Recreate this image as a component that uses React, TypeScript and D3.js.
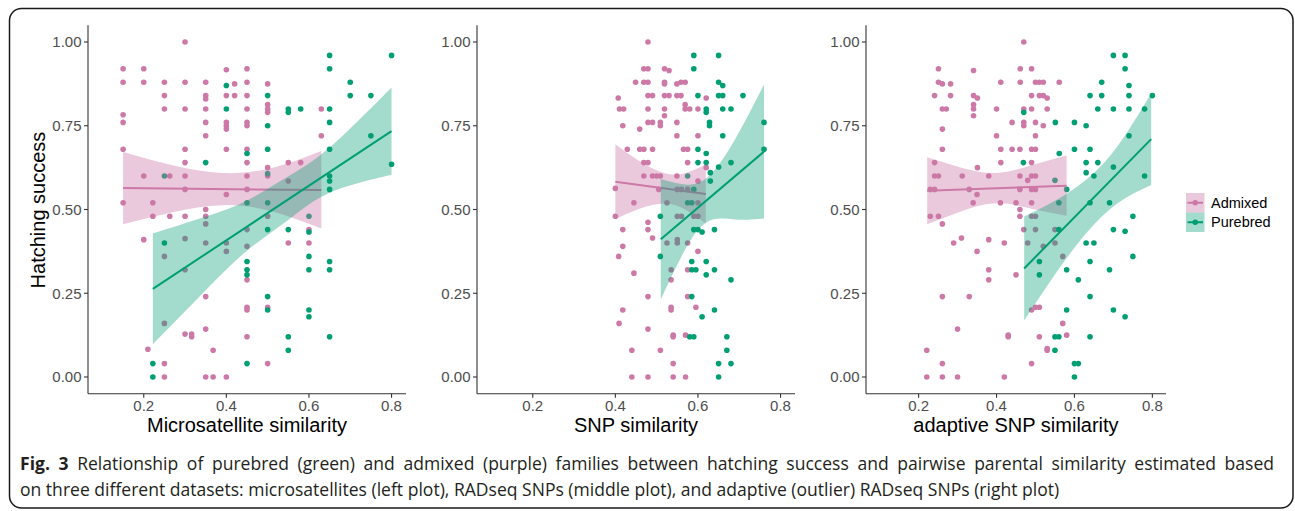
import React, { useLayoutEffect, useRef, useState } from "react";
import * as d3 from "d3";

// shared axis / legend labels
const yTicks = [0, 0.25, 0.5, 0.75, 1];
const xTicks = [0.2, 0.4, 0.6, 0.8];
const groupNames = ["Admixed", "Purebred"];
const groupColors = ["#CC79A7", "#009E73"];
const panelTitles = ["Microsatellite similarity", "SNP similarity", "adaptive SNP similarity"];

// ---- microsatellite panel ----
const msatAdmixed = [
  [0.15, 0.92], [0.15, 0.88], [0.15, 0.783], [0.15, 0.76], [0.15, 0.68], [0.15, 0.52],
  [0.2, 0.92], [0.2, 0.88], [0.2, 0.6], [0.2, 0.41], [0.21, 0.083],
  [0.222, 0.52], [0.222, 0.48],
  [0.25, 0.88], [0.25, 0.84], [0.25, 0.8], [0.25, 0.36], [0.25, 0.16], [0.25, 0.04], [0.25, 0],
  [0.263, 0.6], [0.263, 0.48],
  [0.3, 1.0], [0.3, 0.88], [0.3, 0.8], [0.3, 0.68], [0.3, 0.64], [0.3, 0.6], [0.3, 0.56], [0.3, 0.48], [0.3, 0.413], [0.3, 0.32], [0.3, 0.128],
  [0.316, 0.128], [0.316, 0.12],
  [0.35, 0.88], [0.35, 0.84], [0.35, 0.83], [0.35, 0.8], [0.35, 0.76], [0.35, 0.72], [0.35, 0.5], [0.35, 0.48], [0.35, 0.457], [0.35, 0.4], [0.35, 0.24], [0.35, 0.143], [0.35, 0],
  [0.368, 0.08], [0.368, 0],
  [0.4, 0.917], [0.4, 0.84], [0.4, 0.76], [0.4, 0.75], [0.4, 0.74], [0.4, 0.68], [0.4, 0.545], [0.4, 0.4], [0.4, 0.375], [0.4, 0],
  [0.42, 0.875], [0.42, 0.84],
  [0.45, 0.92], [0.45, 0.88], [0.45, 0.84], [0.45, 0.8], [0.45, 0.76], [0.45, 0.75], [0.45, 0.68], [0.45, 0.64], [0.45, 0.6], [0.45, 0.56], [0.45, 0.44], [0.45, 0.39], [0.45, 0.29], [0.45, 0.208], [0.45, 0.2], [0.45, 0.12],
  [0.5, 0.875], [0.5, 0.813], [0.5, 0.8], [0.5, 0.79], [0.5, 0.625], [0.5, 0.6], [0.5, 0.48], [0.5, 0.208], [0.5, 0.04],
  [0.55, 0.64], [0.55, 0.585], [0.55, 0.4], [0.58, 0.64],
  [0.6, 0.44], [0.6, 0.4],
  [0.63, 0.8], [0.63, 0.72],
];
const msatPurebred = [
  [0.222, 0.04], [0.222, 0],
  [0.25, 0.6], [0.25, 0.4],
  [0.35, 0.64],
  [0.4, 0.87], [0.4, 0.8],
  [0.45, 0.667], [0.45, 0.52], [0.45, 0.345], [0.45, 0.32], [0.45, 0.305], [0.45, 0.04],
  [0.5, 0.84], [0.5, 0.75], [0.5, 0.68], [0.5, 0.607], [0.5, 0.52], [0.5, 0.44], [0.5, 0.24], [0.5, 0.2],
  [0.55, 0.8], [0.55, 0.79], [0.55, 0.44], [0.55, 0.12], [0.55, 0.08],
  [0.58, 0.8],
  [0.6, 0.48], [0.6, 0.433], [0.6, 0.36], [0.6, 0.32], [0.6, 0.2], [0.6, 0.18],
  [0.65, 0.96], [0.65, 0.92], [0.65, 0.8], [0.65, 0.76], [0.65, 0.68], [0.65, 0.6], [0.65, 0.585], [0.65, 0.56], [0.65, 0.345], [0.65, 0.32], [0.65, 0.12],
  [0.7, 0.88], [0.7, 0.84],
  [0.75, 0.84], [0.75, 0.72],
  [0.8, 0.96], [0.8, 0.635],
];
const msatAdmixedFit = [[0.15, 0.564], [0.63, 0.558]];
const msatPurebredFit = [[0.222, 0.263], [0.8, 0.734]];
// band: [x, lower, upper]
const msatAdmixedBand = [[0.15, 0.456, 0.672], [0.27, 0.492, 0.632], [0.39, 0.513, 0.609], [0.51, 0.495, 0.624], [0.63, 0.443, 0.675]];
const msatPurebredBand = [[0.222, 0.098, 0.428], [0.35, 0.259, 0.479], [0.45, 0.377, 0.527], [0.55, 0.469, 0.599], [0.65, 0.55, 0.685], [0.8, 0.604, 0.864]];

// ---- SNP panel ----
const snpAdmixed = [
  [0.4, 0.563], [0.4, 0.48],
  [0.407, 0.833], [0.41, 0.8], [0.408, 0.36], [0.409, 0.16],
  [0.418, 0.75], [0.418, 0.44], [0.418, 0.39], [0.418, 0.2], [0.42, 0.8],
  [0.429, 0.68],
  [0.44, 0.08], [0.44, 0], [0.445, 0.52], [0.445, 0.31],
  [0.449, 0.88],
  [0.459, 0.74], [0.459, 0.68],
  [0.469, 0.92], [0.469, 0.88], [0.469, 0.68], [0.469, 0.64], [0.469, 0.6],
  [0.479, 1.0], [0.479, 0.92], [0.479, 0.88], [0.479, 0.84], [0.479, 0.8], [0.479, 0.76], [0.479, 0.64], [0.479, 0.462], [0.479, 0.44], [0.479, 0.24], [0.479, 0.143], [0.479, 0],
  [0.49, 0.84], [0.49, 0.76], [0.49, 0.68], [0.49, 0.6], [0.49, 0.415],
  [0.5, 0.6], [0.505, 0.56],
  [0.509, 0.76], [0.509, 0.75], [0.509, 0.6], [0.509, 0.08],
  [0.519, 0.92], [0.519, 0.88], [0.519, 0.875], [0.519, 0.84], [0.519, 0.8], [0.519, 0.78],
  [0.525, 0.52], [0.525, 0.4],
  [0.53, 0.915], [0.53, 0.84],
  [0.535, 0.32], [0.535, 0.29], [0.535, 0.208], [0.535, 0.2], [0.54, 0.125], [0.54, 0.12], [0.54, 0.04], [0.54, 0],
  [0.549, 0.875], [0.549, 0.84], [0.549, 0.76], [0.549, 0.72], [0.549, 0.6], [0.55, 0.56], [0.55, 0.48], [0.55, 0.41], [0.55, 0.4],
  [0.559, 0.88], [0.559, 0.84], [0.56, 0.56], [0.56, 0.48],
  [0.565, 0.68],
  [0.569, 0.88], [0.569, 0.813], [0.569, 0.8],
  [0.575, 0.68], [0.575, 0.64], [0.575, 0.56], [0.575, 0.4], [0.575, 0.32], [0.575, 0.24], [0.57, 0.125], [0.57, 0],
  [0.58, 0.8],
  [0.59, 0.48], [0.595, 0.208],
  [0.6, 0.8], [0.6, 0.72], [0.6, 0.585], [0.6, 0.52], [0.6, 0.48], [0.6, 0.375],
  [0.62, 0.833], [0.62, 0.625],
];
const snpPurebred = [
  [0.509, 0.48], [0.509, 0.36],
  [0.575, 0.6], [0.575, 0.52],
  [0.58, 0.12], [0.585, 0.345], [0.585, 0.32], [0.585, 0.24], [0.585, 0.52],
  [0.59, 0.96], [0.59, 0.92], [0.59, 0.56], [0.59, 0.44], [0.59, 0.12],
  [0.595, 0.32],
  [0.6, 0.84], [0.6, 0.68], [0.6, 0.64], [0.6, 0.44],
  [0.61, 0.433], [0.61, 0.18],
  [0.62, 0.8], [0.62, 0.79], [0.62, 0.667], [0.62, 0.64], [0.62, 0.345], [0.62, 0.305],
  [0.628, 0.76], [0.628, 0.75], [0.63, 0.61], [0.63, 0.585],
  [0.64, 0.44], [0.64, 0.32], [0.64, 0.2],
  [0.65, 0.96], [0.65, 0.88], [0.65, 0.84], [0.65, 0.627], [0.65, 0.04], [0.65, 0],
  [0.66, 0.87], [0.66, 0.84], [0.66, 0.8], [0.66, 0.72],
  [0.67, 0.12], [0.67, 0.08],
  [0.68, 0.8], [0.68, 0.64], [0.68, 0.29], [0.68, 0.04],
  [0.709, 0.84],
  [0.76, 0.76], [0.76, 0.68],
];
const snpAdmixedFit = [[0.4, 0.583], [0.619, 0.546]];
const snpPurebredFit = [[0.51, 0.411], [0.76, 0.673]];
const snpAdmixedBand = [[0.4, 0.471, 0.695], [0.46, 0.503, 0.643], [0.52, 0.518, 0.608], [0.57, 0.499, 0.609], [0.619, 0.458, 0.634]];
const snpPurebredBand = [[0.51, 0.231, 0.591], [0.56, 0.36, 0.576], [0.62, 0.461, 0.593], [0.69, 0.47, 0.71], [0.76, 0.473, 0.873]];

// ---- adaptive SNP panel ----
const adaptAdmixed = [
  [0.221, 0.08], [0.221, 0],
  [0.23, 0.56], [0.23, 0.48],
  [0.241, 0.84], [0.241, 0.64], [0.241, 0.6], [0.241, 0.56],
  [0.251, 0.92], [0.251, 0.88], [0.251, 0.6], [0.251, 0.48],
  [0.261, 0.875], [0.261, 0.8], [0.261, 0.74], [0.261, 0.68], [0.261, 0.457], [0.261, 0.24], [0.261, 0.04], [0.261, 0],
  [0.271, 0.8],
  [0.282, 0.875], [0.282, 0.84],
  [0.29, 0.4],
  [0.3, 0.143], [0.3, 0],
  [0.312, 0.6], [0.31, 0.415],
  [0.33, 0.56], [0.33, 0.24],
  [0.341, 0.915], [0.341, 0.84], [0.341, 0.813], [0.341, 0.8], [0.341, 0.78], [0.34, 0.52],
  [0.351, 0.833], [0.351, 0.625], [0.35, 0.545], [0.35, 0.375],
  [0.38, 0.6], [0.38, 0.41], [0.38, 0.32], [0.38, 0.29],
  [0.4, 0.8], [0.4, 0.72],
  [0.411, 0.88], [0.411, 0.68], [0.411, 0.64], [0.41, 0.52],
  [0.42, 0.4], [0.42, 0],
  [0.43, 0.125], [0.43, 0.12],
  [0.44, 0.76], [0.44, 0.68],
  [0.45, 0.52], [0.45, 0.305],
  [0.461, 0.92], [0.461, 0.88], [0.46, 0.68], [0.46, 0.6], [0.46, 0.56], [0.46, 0.5], [0.46, 0.48],
  [0.47, 1.0], [0.47, 0.8], [0.47, 0.76], [0.47, 0.75], [0.47, 0.44],
  [0.48, 0.587], [0.48, 0.4],
  [0.49, 0.92], [0.49, 0.84], [0.49, 0.8], [0.49, 0.68], [0.49, 0.64], [0.49, 0.6], [0.49, 0.56], [0.49, 0.52], [0.49, 0.48], [0.49, 0.2], [0.49, 0.04],
  [0.5, 0.88], [0.5, 0.76], [0.5, 0.72], [0.5, 0.68], [0.5, 0.6], [0.5, 0.56], [0.5, 0.48], [0.5, 0.44], [0.5, 0.208],
  [0.51, 0.88], [0.51, 0.84], [0.51, 0.208], [0.51, 0.12],
  [0.52, 0.88], [0.52, 0.84], [0.52, 0.75], [0.52, 0.39],
  [0.53, 0.833], [0.53, 0.8], [0.53, 0.085], [0.53, 0.08],
  [0.55, 0.44], [0.55, 0.4],
  [0.561, 0.88],
  [0.57, 0.36], [0.57, 0.16],
  [0.58, 0.125],
];
const adaptPurebred = [
  [0.469, 0.64], [0.47, 0.79],
  [0.51, 0.345], [0.51, 0.305],
  [0.55, 0.587], [0.551, 0.76], [0.55, 0.12], [0.55, 0.08],
  [0.561, 0.667], [0.56, 0.52], [0.56, 0.44], [0.56, 0.12],
  [0.58, 0.56], [0.58, 0.32], [0.58, 0.2],
  [0.6, 0.76], [0.6, 0.68], [0.6, 0.04], [0.6, 0],
  [0.61, 0.29], [0.61, 0.04],
  [0.63, 0.75], [0.63, 0.64], [0.63, 0.61], [0.63, 0.4],
  [0.64, 0.84], [0.64, 0.68], [0.64, 0.52], [0.64, 0.345], [0.64, 0.24], [0.64, 0.12],
  [0.65, 0.6], [0.65, 0.4],
  [0.66, 0.8], [0.66, 0.64],
  [0.67, 0.88], [0.67, 0.84],
  [0.69, 0.52], [0.69, 0.32],
  [0.7, 0.96], [0.7, 0.8], [0.7, 0.627], [0.7, 0.44], [0.7, 0.2],
  [0.73, 0.96], [0.73, 0.92], [0.73, 0.435], [0.73, 0.18],
  [0.74, 0.87], [0.74, 0.84], [0.74, 0.8], [0.74, 0.72],
  [0.75, 0.48], [0.75, 0.36],
  [0.78, 0.8], [0.78, 0.6],
  [0.8, 0.84],
];
const adaptAdmixedFit = [[0.222, 0.556], [0.58, 0.571]];
const adaptPurebredFit = [[0.471, 0.324], [0.797, 0.71]];
const adaptAdmixedBand = [[0.222, 0.456, 0.656], [0.31, 0.495, 0.625], [0.4, 0.519, 0.609], [0.49, 0.502, 0.632], [0.58, 0.481, 0.661]];
const adaptPurebredBand = [[0.471, 0.169, 0.479], [0.55, 0.306, 0.526], [0.63, 0.429, 0.589], [0.71, 0.518, 0.688], [0.797, 0.573, 0.847]];

const captionLine1 =
  "Relationship of purebred (green) and admixed (purple) families between hatching success and pairwise parental similarity estimated based";
const captionLine2 =
  "on three different datasets: microsatellites (left plot), RADseq SNPs (middle plot), and adaptive (outlier) RADseq SNPs (right plot)";

const FONT = "'Liberation Sans', Arial, sans-serif";
const CAPTION_FONT = "'Open Sans', 'Noto Sans', sans-serif";

const panels = [
  { left: 88, right: 406, title: panelTitles[0], pts: [msatAdmixed, msatPurebred], fits: [msatAdmixedFit, msatPurebredFit], bands: [msatAdmixedBand, msatPurebredBand] },
  { left: 477, right: 795, title: panelTitles[1], pts: [snpAdmixed, snpPurebred], fits: [snpAdmixedFit, snpPurebredFit], bands: [snpAdmixedBand, snpPurebredBand] },
  { left: 866, right: 1166, title: panelTitles[2], pts: [adaptAdmixed, adaptPurebred], fits: [adaptAdmixedFit, adaptPurebredFit], bands: [adaptAdmixedBand, adaptPurebredBand] },
];

const bandOpacity = [0.4, 0.36];

// y scale shared by all panels (ggplot 5% expansion of 0..1)
const y = d3.scaleLinear().domain([-0.05, 1.05]).range([393.75, 25.25]);

function Panel({ p }) {
  const x = d3.scaleLinear().domain([0.065, 0.835]).range([p.left, p.right]);
  const area = d3
    .area()
    .x((d) => x(d[0]))
    .y0((d) => y(d[1]))
    .y1((d) => y(d[2]))
    .curve(d3.curveNatural);
  const line = d3
    .line()
    .x((d) => x(d[0]))
    .y((d) => y(d[1]));
  const yBase = y(-0.05);

  return (
    <g>
      {/* points first, then smooths on top (ggplot layer order) */}
      {p.pts.map((pts, gi) =>
        pts.map((d, i) => <circle key={gi + "-" + i} cx={x(d[0])} cy={y(d[1])} r={2.8} fill={groupColors[gi]} />)
      )}
      {p.bands.map((band, gi) => (
        <g key={"s" + gi}>
          <path d={area(band)} fill={groupColors[gi]} fillOpacity={bandOpacity[gi]} />
          <path d={line(p.fits[gi])} stroke={groupColors[gi]} strokeWidth={2} fill="none" />
        </g>
      ))}

      {/* axes */}
      <line x1={p.left} x2={p.left} y1={y(1.05)} y2={yBase} stroke="#333" strokeWidth={1.1} />
      <line x1={p.left} x2={p.right} y1={yBase} y2={yBase} stroke="#333" strokeWidth={1.1} />
      {yTicks.map((t) => (
        <g key={"y" + t}>
          <line x1={p.left - 4} x2={p.left} y1={y(t)} y2={y(t)} stroke="#333" strokeWidth={1.1} />
          <text x={p.left - 6.5} y={y(t)} dy="0.36em" textAnchor="end" fontSize={15} fill="#4D4D4D" fontFamily={FONT}>
            {t.toFixed(2)}
          </text>
        </g>
      ))}
      {xTicks.map((t) => (
        <g key={"x" + t}>
          <line x1={x(t)} x2={x(t)} y1={yBase} y2={yBase + 4} stroke="#333" strokeWidth={1.1} />
          <text x={x(t)} y={yBase + 17} textAnchor="middle" fontSize={15} fill="#4D4D4D" fontFamily={FONT}>
            {t.toFixed(1)}
          </text>
        </g>
      ))}
      <text x={(p.left + p.right) / 2} y={432} textAnchor="middle" fontSize={20} fill="#000" fontFamily={FONT}>
        {p.title}
      </text>
    </g>
  );
}

// caption: last line at natural width, first line justified to the full width
function Caption() {
  const r1 = useRef(null);
  const r2 = useRef(null);
  const [fit, setFit] = useState({ sx: 1, ws: 0 });

  useLayoutEffect(() => {
    const n1 = r1.current.getComputedTextLength();
    const n2 = r2.current.getComputedTextLength();
    const sx = 1040 / n2;
    const spaces = ("Fig. 3 " + captionLine1).split(" ").length - 1;
    const ws = Math.max(0, (1255 / sx - n1) / spaces);
    setFit({ sx, ws });
  }, []);

  return (
    <g transform={`translate(20,0) scale(${fit.sx},1)`} fontFamily={CAPTION_FONT} fontSize={18} fill="#231F20">
      <text ref={r1} x={0} y={470} style={{ wordSpacing: fit.ws + "px" }}>
        <tspan fontWeight="bold">Fig. 3</tspan>
        <tspan> {captionLine1}</tspan>
      </text>
      <text ref={r2} x={0} y={496}>
        {captionLine2}
      </text>
    </g>
  );
}

export default function App() {
  const keyX = 1186;
  const keyW = 18.5;
  const keyH = 19.5;
  const keyTop = 193;

  return (
    <svg width={1295} height={511} style={{ position: "absolute", left: 0, top: 0, background: "#fff" }}>
      <rect x={0} y={0} width={1295} height={511} fill="#fff" />
      <rect x={9.5} y={8.5} width={1283.5} height={499.5} rx={12} fill="none" stroke="#1a1a1a" strokeWidth={1.5} />

      {panels.map((p, i) => (
        <Panel key={i} p={p} />
      ))}

      <text transform="translate(45,210) rotate(-90)" textAnchor="middle" fontSize={20} fill="#000" fontFamily={FONT}>
        Hatching success
      </text>

      {/* legend */}
      {groupNames.map((g, i) => {
        const top = keyTop + i * keyH;
        const cy = top + keyH / 2;
        return (
          <g key={g}>
            <rect x={keyX} y={top} width={keyW} height={keyH} fill={groupColors[i]} fillOpacity={bandOpacity[i]} />
            <line x1={keyX + 1.5} x2={keyX + keyW - 1.5} y1={cy} y2={cy} stroke={groupColors[i]} strokeWidth={2} />
            <circle cx={keyX + keyW / 2} cy={cy} r={2.8} fill={groupColors[i]} />
            <text x={1211} y={cy} dy="0.36em" fontSize={14.5} fill="#000" fontFamily={FONT}>
              {g}
            </text>
          </g>
        );
      })}

      <Caption />
    </svg>
  );
}
